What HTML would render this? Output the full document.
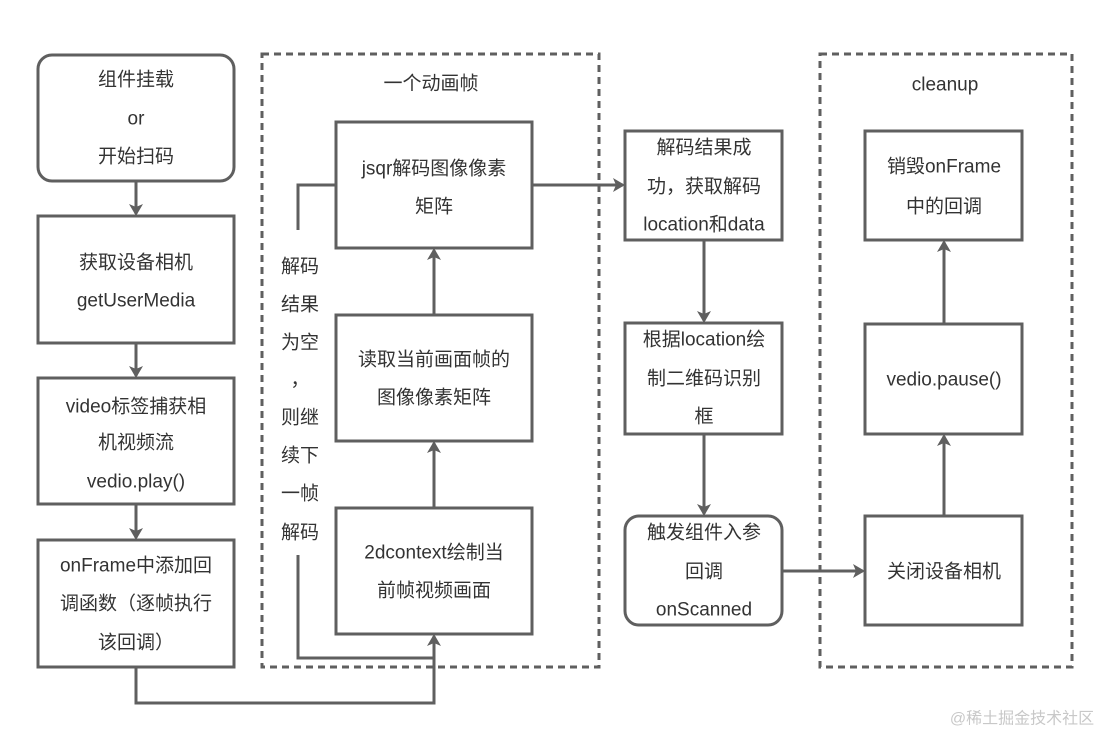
<!DOCTYPE html>
<html><head><meta charset="utf-8"><style>
html,body{margin:0;padding:0;background:#fff;}
svg text{font-family:"Liberation Sans","Noto Sans CJK SC",sans-serif;font-size:19px;fill:#333;text-anchor:middle;dominant-baseline:central;}
</style></head><body>
<svg width="1110" height="738" viewBox="0 0 1110 738" xmlns="http://www.w3.org/2000/svg">
<defs><marker id="a" markerWidth="10" markerHeight="10" refX="8" refY="5" orient="auto" markerUnits="userSpaceOnUse"><path d="M0,0 L10,5 L0,10 Z" fill="#5f5f5f"/></marker>
<marker id="b" markerWidth="12" markerHeight="14" refX="10" refY="7" orient="auto" markerUnits="userSpaceOnUse"><path d="M0,0 L12,7 L0,14 L3,7 Z" fill="#5f5f5f"/></marker></defs>
<g fill="none" stroke="#5f5f5f" stroke-width="3">
<rect x="262" y="54" width="337" height="613" stroke-dasharray="7,5"/>
<rect x="820" y="54" width="252" height="613" stroke-dasharray="7,5"/>
<rect x="38" y="55" width="196" height="126" rx="14" fill="#fff"/>
<rect x="38" y="216" width="196" height="127" fill="#fff"/>
<rect x="38" y="378" width="196" height="126" fill="#fff"/>
<rect x="38" y="540" width="196" height="127" fill="#fff"/>
<rect x="336" y="122" width="196" height="126" fill="#fff"/>
<rect x="336" y="315" width="196" height="126" fill="#fff"/>
<rect x="336" y="508" width="196" height="126" fill="#fff"/>
<rect x="625" y="131" width="157" height="109" fill="#fff"/>
<rect x="625" y="323" width="157" height="111" fill="#fff"/>
<rect x="625" y="516" width="157" height="109" rx="14" fill="#fff"/>
<rect x="865" y="516" width="157" height="109" fill="#fff"/>
<rect x="865" y="324" width="157" height="110" fill="#fff"/>
<rect x="865" y="131" width="157" height="109" fill="#fff"/>
<line x1="136" y1="181" x2="136" y2="214" marker-end="url(#b)"/>
<line x1="136" y1="343" x2="136" y2="376" marker-end="url(#b)"/>
<line x1="136" y1="504" x2="136" y2="538" marker-end="url(#b)"/>
<polyline points="136,667 136,703 434,703 434,636" marker-end="url(#b)"/>
<line x1="434" y1="508" x2="434" y2="443" marker-end="url(#b)"/>
<line x1="434" y1="315" x2="434" y2="250" marker-end="url(#b)"/>
<polyline points="336,185 298,185 298,230"/>
<polyline points="298,555 298,658 434,658"/>
<line x1="532" y1="185" x2="623" y2="185" marker-end="url(#b)"/>
<line x1="704" y1="240" x2="704" y2="321" marker-end="url(#b)"/>
<line x1="704" y1="434" x2="704" y2="514" marker-end="url(#b)"/>
<line x1="782" y1="571" x2="863" y2="571" marker-end="url(#b)"/>
<line x1="944" y1="516" x2="944" y2="436" marker-end="url(#b)"/>
<line x1="944" y1="324" x2="944" y2="242" marker-end="url(#b)"/>
</g>
<text x="136" y="80">组件挂载</text><text x="136" y="119">or</text><text x="136" y="157">开始扫码</text>
<text x="136" y="263">获取设备相机</text><text x="136" y="301">getUserMedia</text>
<text x="136" y="407">video标签捕获相</text><text x="136" y="443">机视频流</text><text x="136" y="482">vedio.play()</text>
<text x="136" y="566">onFrame中添加回</text><text x="136" y="604">调函数（逐帧执行</text><text x="136" y="643">该回调）</text>
<text x="431" y="84">一个动画帧</text>
<text x="434" y="169">jsqr解码图像像素</text><text x="434" y="207">矩阵</text>
<text x="434" y="360">读取当前画面帧的</text><text x="434" y="398">图像像素矩阵</text>
<text x="434" y="553">2dcontext绘制当</text><text x="434" y="591">前帧视频画面</text>
<text x="300" y="267">解码</text><text x="300" y="305">结果</text><text x="300" y="343">为空</text><text x="300" y="380">，</text><text x="300" y="418">则继</text><text x="300" y="456">续下</text><text x="300" y="494">一帧</text><text x="300" y="533">解码</text>
<text x="704" y="148">解码结果成</text><text x="704" y="187">功，获取解码</text><text x="704" y="225">location和data</text>
<text x="704" y="340">根据location绘</text><text x="704" y="379">制二维码识别</text><text x="704" y="417">框</text>
<text x="704" y="533">触发组件入参</text><text x="704" y="572">回调</text><text x="704" y="610">onScanned</text>
<text x="945" y="85">cleanup</text>
<text x="944" y="167">销毁onFrame</text><text x="944" y="207">中的回调</text>
<text x="944" y="380">vedio.pause()</text>
<text x="944" y="572">关闭设备相机</text>
<text x="1022" y="719" style="font-size:16px;fill:#c8c8c8">@稀土掘金技术社区</text>
</svg>
</body></html>
